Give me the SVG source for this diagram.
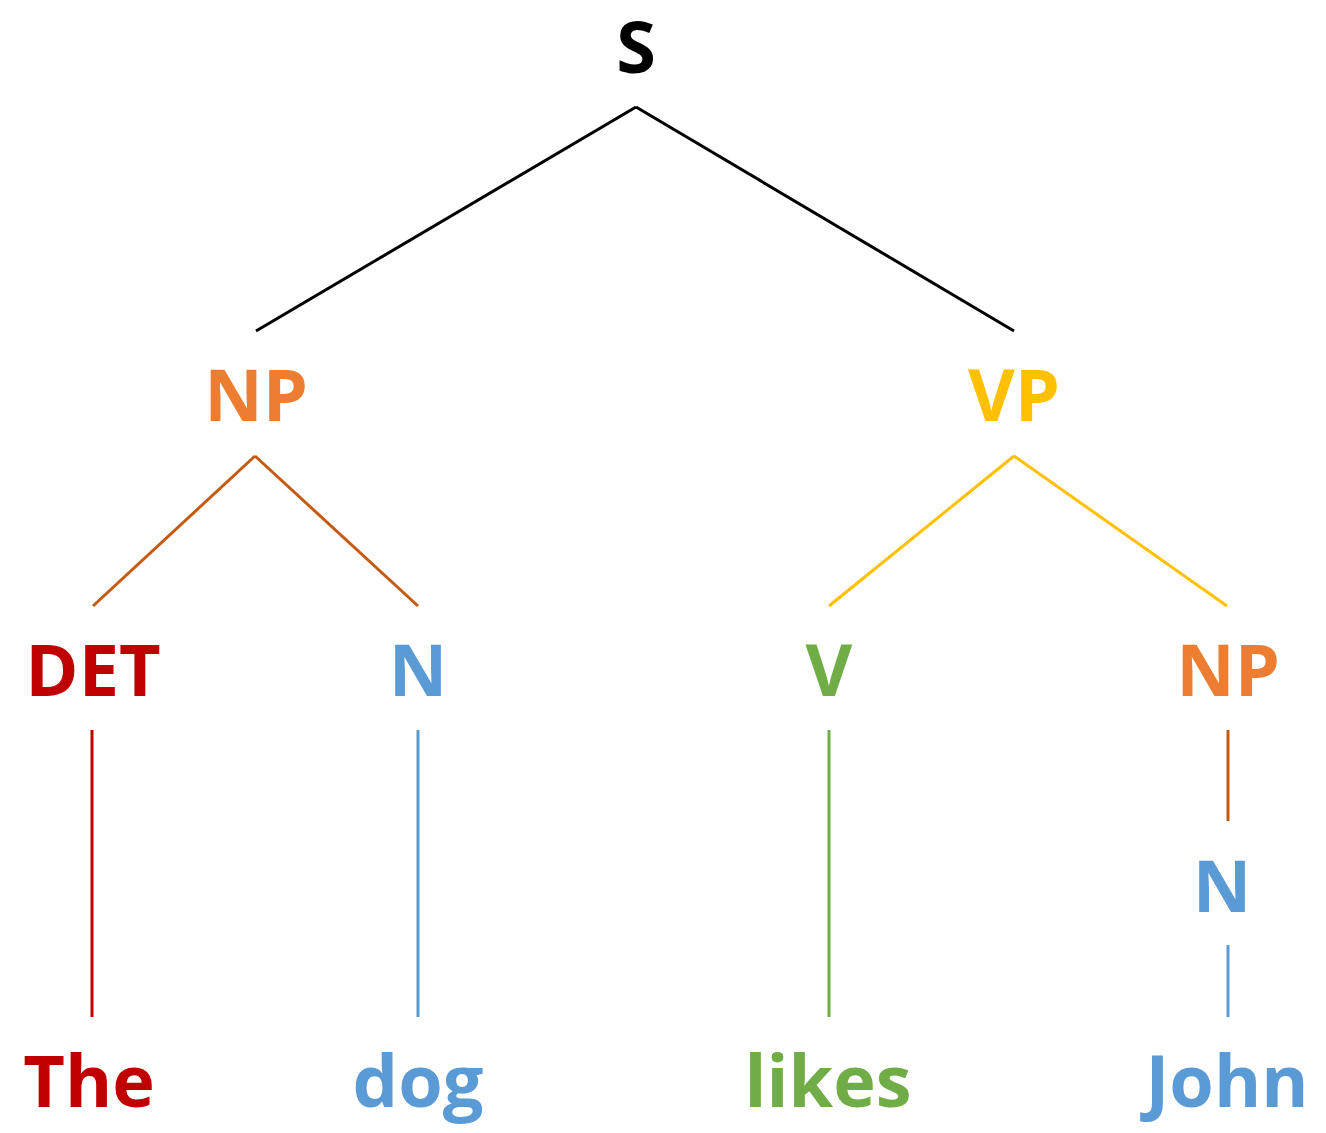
<svg xmlns="http://www.w3.org/2000/svg" width="1326" height="1133" viewBox="0 0 1326 1133">
<style>
text{font-family:"Open Sans","Liberation Sans",sans-serif;font-weight:bold;font-size:72px;text-anchor:middle}
.k{fill:#000}.o{fill:#ed7d31}.y{fill:#ffc000}.r{fill:#c00000}.b{fill:#5b9bd5}.g{fill:#70ad47}
line{stroke-width:3;fill:none}
</style>
<rect width="1326" height="1133" fill="#fff"/>
<g id="connectors">
<line x1="636" y1="107" x2="256" y2="331" stroke="#000"/>
<line x1="636" y1="107" x2="1014" y2="331" stroke="#000"/>
<line x1="255" y1="456" x2="93" y2="606" stroke="#c55a11"/>
<line x1="255" y1="456" x2="418" y2="606" stroke="#c55a11"/>
<line x1="1014" y1="456" x2="829" y2="606" stroke="#ffc000"/>
<line x1="1014" y1="456" x2="1227" y2="606" stroke="#ffc000"/>
<line x1="92" y1="730" x2="92" y2="1017" stroke="#c00000"/>
<line x1="418" y1="730" x2="418" y2="1017" stroke="#5b9bd5"/>
<line x1="829" y1="730" x2="829" y2="1017" stroke="#70ad47"/>
<line x1="1228" y1="730" x2="1228" y2="821" stroke="#c55a11"/>
<line x1="1228" y1="945" x2="1228" y2="1017" stroke="#5b9bd5"/>
</g>
<g id="S"><text x="636" y="73" class="k">S</text></g>
<g id="NP1"><text x="256" y="421" class="o">NP</text></g>
<g id="VP"><text x="1014" y="421" class="y">VP</text></g>
<g id="DET"><text x="93" y="696" class="r">DET</text></g>
<g id="N1"><text x="418" y="696" class="b">N</text></g>
<g id="V"><text x="829" y="696" class="g">V</text></g>
<g id="NP2"><text x="1228" y="696" class="o">NP</text></g>
<g id="N2"><text x="1222" y="912" class="b">N</text></g>
<g id="The"><text x="89" y="1107" class="r">The</text></g>
<g id="dog"><text x="418" y="1107" class="b">dog</text></g>
<g id="likes"><text x="828" y="1107" class="g">likes</text></g>
<g id="John"><text x="1227" y="1107" class="b">John</text></g>
</svg>
